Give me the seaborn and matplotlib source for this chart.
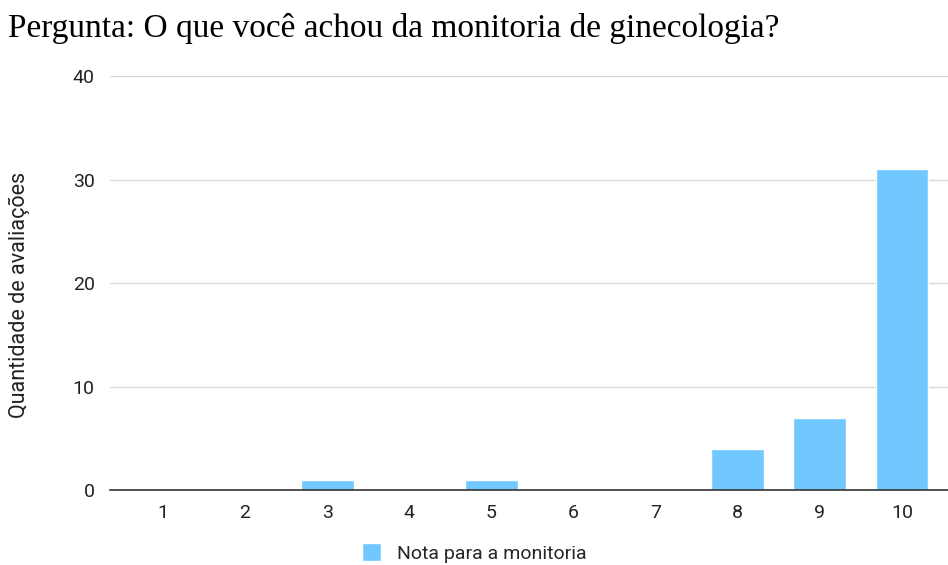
import pandas as pd
import matplotlib.pyplot as plt
import seaborn as sns

notas = ['1', '2', '3', '4', '5', '6', '7', '8', '9', '10']
quantidade = [0, 0, 1, 0, 1, 0, 0, 4, 7, 31]

df = pd.DataFrame({'Nota': notas, 'Quantidade': quantidade,
                   'Serie': 'Nota para a monitoria'})

sns.set_style('white')
plt.rcParams['font.family'] = ['Roboto', 'DejaVu Sans']

fig = plt.figure(figsize=(9.48, 5.65), dpi=100)
ax = fig.add_axes([0.116, 0.1327, 0.884, 0.7328])

sns.barplot(data=df, x='Nota', y='Quantidade', hue='Serie',
            palette=['#70c8ff'], saturation=1, width=0.645, ax=ax)

ax.set_ylim(0, 40)
ax.set_yticks([0, 10, 20, 30, 40])
ax.set_xlim(-0.645, 9.56)
ax.grid(axis='y', color='#d9d9d9', linewidth=1)
ax.set_axisbelow(True)
for s in ['top', 'right', 'left']:
    ax.spines[s].set_visible(False)
ax.spines['bottom'].set_color('#333333')
ax.spines['bottom'].set_linewidth(1.2)
ax.spines['bottom'].set_zorder(5)
ax.tick_params(axis='both', length=0, labelsize=14, labelcolor='#222222')
ax.tick_params(axis='x', pad=10)
ax.tick_params(axis='y', pad=11)

ax.set_xlabel('')
ax.set_ylabel('Quantidade de avaliações', fontsize=15.5, color='#222222')
ax.yaxis.set_label_coords(30 / 948, 0.478, transform=fig.transFigure)

fig.text(0.008, 0.95, 'Pergunta: O que você achou da monitoria de ginecologia?',
         fontsize=24, family='Liberation Serif', color='#000000', va='center')

ax.legend(loc='center', frameon=False,
          fontsize=14, handlelength=1.0, handleheight=1.0, borderaxespad=0)
ax.get_legend().set_bbox_to_anchor((0.5, 0.021), transform=fig.transFigure)

fig.savefig('out.png', dpi=100)
